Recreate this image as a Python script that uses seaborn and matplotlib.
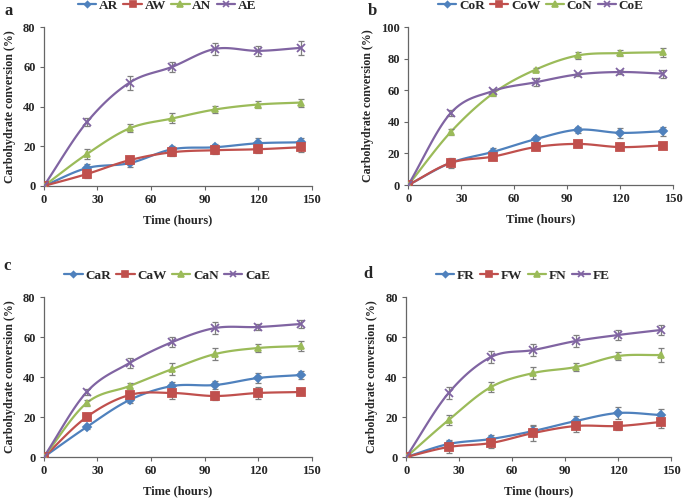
import numpy as np
import pandas as pd
import matplotlib
matplotlib.use("Agg")
import matplotlib.pyplot as plt
from matplotlib.lines import Line2D
import seaborn as sns

# sampling times (hours)
hours = [0, 24, 48, 72, 96, 120, 144]

# panel a
a_names = ["AR", "AW", "AN", "AE"]
a_vals = [
    [0, 9, 11.5, 18.5, 19.5, 21.5, 22],
    [0, 6, 13, 17, 18, 18.5, 19.5],
    [0, 16, 29, 34, 38.5, 41, 42],
    [0, 32, 52, 60, 69, 68, 69.5],
]
a_err = [
    [0, 2, 2, 1.5, 1.5, 2.5, 2],
    [0, 2, 2, 2, 2, 2, 2.5],
    [0, 2.5, 2, 2.5, 2, 2, 2],
    [0, 2, 3.5, 2.5, 3, 2.5, 3.5],
]

# panel b
b_names = ["CoR", "CoW", "CoN", "CoE"]
b_vals = [
    [0, 14, 21, 29, 35, 33, 34],
    [0, 14, 18, 24, 26, 24, 25],
    [0, 33.5, 58, 73, 82, 83.5, 84],
    [0, 45.5, 59.5, 65, 70, 71.5, 70.5],
]
b_err = [
    [0, 2, 2.5, 2, 2, 3, 3],
    [0, 3, 2, 2, 2, 1.5, 1.5],
    [0, 2, 1.5, 1, 2, 2, 3],
    [0, 2, 1.5, 2.5, 1, 1.5, 2.5],
]

# panel c
c_names = ["CaR", "CaW", "CaN", "CaE"]
c_vals = [
    [0, 15, 28.5, 35.5, 36, 39.5, 41],
    [0, 20, 31, 32, 30.5, 32, 32.5],
    [0, 27, 35.5, 44, 51.5, 54.5, 55.5],
    [0, 32.5, 47, 57.5, 64.5, 65, 66.5],
]
c_err = [
    [0, 1, 1.5, 2, 2, 2.5, 2],
    [0, 1, 1.5, 3, 2, 3, 1.5],
    [0, 1.5, 1.5, 3, 3, 2, 2.5],
    [0, 1.5, 2.5, 2.5, 3, 1.5, 2],
]

# panel d
d_names = ["FR", "FW", "FN", "FE"]
d_vals = [
    [0, 6.5, 9, 13, 18, 22, 21],
    [0, 5, 7, 12, 15.5, 15.5, 17.5],
    [0, 18.5, 35, 42, 45, 50.5, 51],
    [0, 32, 50, 53.5, 58, 61, 63.5],
]
d_err = [
    [0, 2, 2, 2.5, 2.5, 3, 3],
    [0, 3, 2.5, 4, 3, 2, 3],
    [0, 2.5, 2.5, 3, 2, 2, 3.5],
    [0, 3, 3, 3, 3, 2.5, 2.5],
]

colors = ["#4F81BD", "#C0504D", "#9BBB59", "#8064A2"]
markers = ["D", "s", "^", "x"]
msizes = [4, 6, 5, 6]

sns.set_theme(style="ticks")
plt.rcParams["font.family"] = ["Liberation Serif", "DejaVu Serif"]
plt.rcParams["font.weight"] = "bold"


def smooth(x, y, n=20):
    # Catmull-Rom style curve through the points (like Excel smoothed lines)
    x = np.asarray(x, float)
    y = np.asarray(y, float)
    px = np.concatenate([[2 * x[0] - x[1]], x, [2 * x[-1] - x[-2]]])
    py = np.concatenate([[2 * y[0] - y[1]], y, [2 * y[-1] - y[-2]]])
    xs, ys = [], []
    t = np.linspace(0, 1, n, endpoint=False)
    for i in range(1, len(px) - 2):
        for arr, out in ((px, xs), (py, ys)):
            p0, p1, p2, p3 = arr[i - 1], arr[i], arr[i + 1], arr[i + 2]
            out.extend(0.5 * ((2 * p1) + (-p0 + p2) * t
                              + (2 * p0 - 5 * p1 + 4 * p2 - p3) * t ** 2
                              + (-p0 + 3 * p1 - 3 * p2 + p3) * t ** 3))
    xs.append(x[-1])
    ys.append(y[-1])
    return np.array(xs), np.array(ys)


def draw_panel(ax, names, vals, errs, ymax, leg_x):
    for i, (name, v, e) in enumerate(zip(names, vals, errs)):
        sx, sy = smooth(hours, v)
        sns.lineplot(x=sx, y=sy, ax=ax, color=colors[i], lw=1.6, sort=False,
                     estimator=None)
        ax.errorbar(hours, v, yerr=e, fmt="none", ecolor="#7f7f7f",
                    elinewidth=0.9, capsize=2.2, capthick=0.9, zorder=3)
        ax.plot(hours, v, ls="none", marker=markers[i], ms=msizes[i],
                color=colors[i], mew=1.3, zorder=4)
    ax.set_xlim(0, 150)
    ax.set_ylim(0, ymax)
    ax.set_xticks(range(0, 151, 30))
    ax.set_yticks(range(0, ymax + 1, 20))
    ax.tick_params(labelsize=9, length=3, width=0.8, color="#666666", pad=3)
    for lab in ax.get_xticklabels() + ax.get_yticklabels():
        lab.set_fontweight("bold")
    ax.set_xlabel("Time (hours)", fontsize=9, fontweight="bold", labelpad=6)
    ax.set_ylabel("Carbohydrate conversion (%)", fontsize=8.6,
                  fontweight="bold", labelpad=5)
    sns.despine(ax=ax)
    for sp in ("left", "bottom"):
        ax.spines[sp].set_color("#666666")
        ax.spines[sp].set_linewidth(0.9)
    handles = [Line2D([], [], color=colors[i], marker=markers[i],
                      ms=msizes[i] - 1, lw=1.6, mew=1.2) for i in range(4)]
    ax.legend(handles, names, loc="center", bbox_to_anchor=(leg_x, 1.135),
              ncol=4, frameon=False, handlelength=1.4, handletextpad=0.2,
              columnspacing=0.4, borderaxespad=0, borderpad=0,
              prop={"weight": "bold", "size": 9.5})


fig = plt.figure(figsize=(6.85, 5.0), dpi=100)
ax_a = fig.add_axes([0.064, 0.628, 0.391, 0.318])
ax_b = fig.add_axes([0.596, 0.630, 0.387, 0.316])
ax_c = fig.add_axes([0.064, 0.086, 0.391, 0.320])
ax_d = fig.add_axes([0.593, 0.086, 0.387, 0.320])

draw_panel(ax_a, a_names, a_vals, a_err, 80, 0.46)
draw_panel(ax_b, b_names, b_vals, b_err, 100, 0.50)
draw_panel(ax_c, c_names, c_vals, c_err, 80, 0.46)
draw_panel(ax_d, d_names, d_vals, d_err, 80, 0.44)

fig.text(0.007, 0.978, "a", fontsize=12, fontweight="bold", va="center")
fig.text(0.537, 0.978, "b", fontsize=12, fontweight="bold", va="center")
fig.text(0.005, 0.468, "c", fontsize=12, fontweight="bold", va="center")
fig.text(0.531, 0.452, "d", fontsize=12, fontweight="bold", va="center")

fig.savefig("out.png", dpi=100)
